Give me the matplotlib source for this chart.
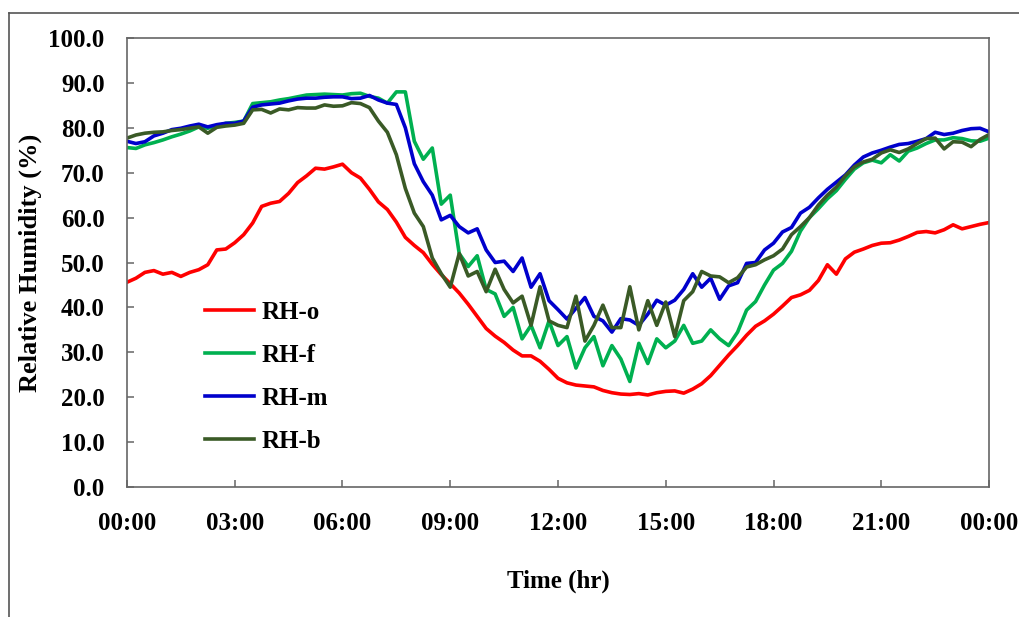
import numpy as np
import matplotlib.pyplot as plt
from matplotlib.lines import Line2D

# time grid, 15 minute steps over one day (hours)
hours = np.arange(0, 24.01, 0.25)

rh_o = [45.6, 46.5, 47.8, 48.2, 47.4, 47.8, 46.9, 47.8,
        48.4, 49.5, 52.8, 53.0, 54.4, 56.2, 58.8, 62.5,
        63.2, 63.6, 65.4, 67.8, 69.3, 71.0, 70.8, 71.3,
        71.9, 70.0, 68.8, 66.3, 63.5, 61.8, 59.0, 55.6,
        53.8, 52.2, 49.6, 47.3, 45.3, 43.2, 40.7, 38.0,
        35.3, 33.6, 32.2, 30.5, 29.2, 29.2, 28.0, 26.2,
        24.2, 23.2, 22.7, 22.5, 22.3, 21.5, 21.0, 20.7,
        20.6, 20.8, 20.5, 21.0, 21.3, 21.4, 20.9, 21.8,
        23.0, 24.8, 27.1, 29.4, 31.5, 33.8, 35.8, 37.0,
        38.5, 40.3, 42.2, 42.8, 43.8, 46.0, 49.5, 47.4,
        50.8, 52.3, 53.0, 53.8, 54.3, 54.4, 55.0, 55.8,
        56.7, 56.9, 56.6, 57.3, 58.4, 57.5, 58.0, 58.5,
        58.9]

rh_f = [75.6, 75.4, 76.2, 76.7, 77.3, 78.0, 78.6, 79.3,
        80.2, 79.9, 80.4, 81.0, 81.2, 81.5, 85.4, 85.6,
        85.8, 86.2, 86.5, 86.9, 87.3, 87.4, 87.5, 87.4,
        87.3, 87.6, 87.7, 87.0, 86.6, 85.5, 88.0, 88.0,
        77.0, 73.0, 75.5, 63.0, 65.0, 52.0, 49.1, 51.5,
        44.0, 43.0, 38.0, 40.0, 33.0, 36.0, 31.0, 37.0,
        31.5, 33.5, 26.5, 31.0, 33.5, 27.0, 31.5, 28.5,
        23.5, 32.0, 27.5, 33.0, 31.0, 32.5, 36.0, 32.0,
        32.5, 35.0, 33.0, 31.5, 34.5, 39.4, 41.3, 45.0,
        48.3, 49.8, 52.5, 57.0, 60.0, 62.0, 64.2, 66.0,
        68.5, 70.8, 72.2, 72.8, 72.2, 74.0, 72.6, 74.8,
        75.5, 76.5, 77.3, 77.3, 77.8, 77.6, 77.1, 77.0,
        77.7]

rh_m = [77.0, 76.5, 76.9, 78.2, 78.8, 79.6, 79.9, 80.4,
        80.8, 80.2, 80.7, 81.0, 81.0, 81.5, 84.6, 85.1,
        85.3, 85.5, 86.0, 86.4, 86.6, 86.6, 86.8, 86.9,
        86.9, 86.5, 86.6, 87.2, 86.2, 85.5, 85.2, 80.0,
        72.0, 68.0, 65.0, 59.5, 60.5, 58.0, 56.6, 57.5,
        52.8, 50.0, 50.3, 48.0, 51.0, 44.5, 47.5, 41.5,
        39.5, 37.4, 39.8, 42.2, 38.0, 37.0, 34.5, 37.5,
        37.2, 36.0, 38.5, 41.6, 40.5, 41.6, 44.0, 47.5,
        44.5, 46.5, 41.8, 44.8, 45.5, 49.8, 50.0, 52.8,
        54.3, 56.8, 57.8, 61.0, 62.3, 64.4, 66.3, 67.9,
        69.5, 71.7, 73.5, 74.4, 75.0, 75.7, 76.3, 76.5,
        77.0, 77.6, 79.0, 78.5, 78.8, 79.4, 79.8, 79.9,
        79.1]

rh_b = [77.7, 78.4, 78.8, 79.0, 79.1, 79.4, 79.6, 79.9,
        80.2, 78.8, 80.1, 80.4, 80.6, 81.0, 84.0, 84.1,
        83.3, 84.2, 84.0, 84.5, 84.4, 84.4, 85.1, 84.8,
        84.9, 85.6, 85.4, 84.5, 81.5, 79.0, 74.0, 66.5,
        61.0, 58.0, 51.0, 47.5, 44.5, 52.0, 47.0, 48.0,
        43.5, 48.5, 44.0, 41.0, 42.5, 36.0, 44.6, 37.0,
        36.0, 35.5, 42.5, 32.5, 36.0, 40.5, 35.5, 35.5,
        44.6, 35.0, 41.5, 36.0, 41.2, 33.5, 41.5, 43.5,
        48.0, 47.0, 46.8, 45.5, 46.6, 49.0, 49.5, 50.6,
        51.5, 53.0, 56.2, 58.0, 60.0, 62.8, 65.0, 66.8,
        69.3, 71.3, 72.4, 73.0, 74.4, 75.1, 74.5, 75.3,
        76.5, 77.6, 77.7, 75.3, 76.9, 76.8, 75.8, 77.4,
        78.5]

series = [("RH-o", rh_o, "#ff0000"),
          ("RH-f", rh_f, "#00b050"),
          ("RH-m", rh_m, "#0000cc"),
          ("RH-b", rh_b, "#3a5a26")]

x_ticks = [0, 3, 6, 9, 12, 15, 18, 21, 24]
x_labels = ["00:00", "03:00", "06:00", "09:00", "12:00",
            "15:00", "18:00", "21:00", "00:00"]
y_ticks = [0, 10, 20, 30, 40, 50, 60, 70, 80, 90, 100]

plt.rcParams["font.family"] = "Liberation Serif"
plt.rcParams["font.weight"] = "bold"

fig = plt.figure(figsize=(10.19, 6.17), dpi=100)
ax = fig.add_axes([0.1246, 0.2107, 0.8460, 0.7277])

for name, vals, col in series:
    ax.plot(hours, vals, color=col, lw=2.6, label=name)

ax.set_xlim(0, 24)
ax.set_ylim(0, 100)
ax.set_xticks(x_ticks)
ax.set_xticklabels(x_labels)
ax.set_yticks(y_ticks)
ax.set_yticklabels([f"{v:.1f}" for v in y_ticks])
ax.tick_params(direction="in", length=5, width=1.1, color="#666666",
               labelsize=18)
ax.tick_params(axis="y", pad=16)
ax.tick_params(axis="x", pad=18)
for sp in ax.spines.values():
    sp.set_color("#666666")
    sp.set_linewidth(1.2)

ax.set_xlabel("Time (hr)", fontsize=18, fontweight="bold", labelpad=25)
ax.set_ylabel("Relative Humidity (%)", fontsize=19, fontweight="bold",
              labelpad=5)

ax.legend(loc="center left", bbox_to_anchor=(0.0905, 0.245), frameon=False,
          borderpad=0, borderaxespad=0, handlelength=1.95,
          handletextpad=0.3, labelspacing=0.8, fontsize=18)

# outer frame of the picture (top and left edges)
fig.add_artist(Line2D([8.5 / 1019, 8.5 / 1019], [0, 1 - 13 / 617],
                      transform=fig.transFigure, color="#555555", lw=1.2))
fig.add_artist(Line2D([8.5 / 1019, 1], [1 - 13 / 617, 1 - 13 / 617],
                      transform=fig.transFigure, color="#555555", lw=1.2))

fig.savefig("out.png", dpi=100)
